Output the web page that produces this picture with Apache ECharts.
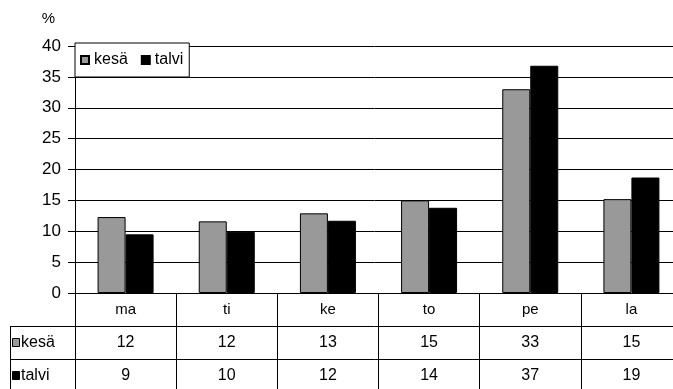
<!DOCTYPE html>
<html>
<head>
<meta charset="utf-8">
<script src="https://cdn.jsdelivr.net/npm/echarts@6/dist/echarts.min.js"></script>
<style>
html,body{margin:0;padding:0;background:#fff;}
#c{width:673px;height:389px;}
</style>
</head>
<body>
<div id="c"></div>
<script>
const categories = ['ma', 'ti', 'ke', 'to', 'pe', 'la'];
const seriesNames = ['kesä', 'talvi'];
const kesaValues = [12.3, 11.6, 12.9, 15.0, 33.0, 15.2];
const talviValues = [9.5, 9.9, 11.7, 13.8, 36.8, 18.7];
const kesaTable = ['12', '12', '13', '15', '33', '15'];
const talviTable = ['9', '10', '12', '14', '37', '19'];
const yTicks = [0, 5, 10, 15, 20, 25, 30, 35, 40];
const yUnit = '%';

const FONT = '"Liberation Sans", Arial, sans-serif';
const GRAY = '#999999';

const chart = echarts.init(document.getElementById('c'), null, {renderer: 'canvas'});

function tableAxis(data, offset, labelSize) {
  return {
    type: 'category',
    data: data,
    position: 'bottom',
    offset: offset,
    boundaryGap: true,
    axisLine: {show: true, lineStyle: {color: '#000', width: 1}},
    axisTick: {show: true, interval: 0, length: 33, lineStyle: {color: '#000', width: 1}},
    axisLabel: {interval: 0, color: '#000', fontFamily: FONT, fontSize: labelSize, margin: 9},
    splitLine: {show: false}
  };
}

const option = {
  backgroundColor: '#fff',
  animation: false,
  grid: {left: 75, width: 607, top: 46, bottom: 96, containLabel: false, outerBoundsMode: 'none'},
  legend: {
    data: seriesNames,
    left: 75, top: 43,
    orient: 'horizontal',
    backgroundColor: '#fff',
    borderColor: '#000', borderWidth: 1, borderRadius: 0,
    padding: [8, 6, 8, 5],
    itemWidth: 8, itemHeight: 8, itemGap: 13,
    icon: 'rect',
    textStyle: {color: '#000', fontFamily: FONT, fontSize: 16, lineHeight: 18}
  },
  xAxis: [
    tableAxis(categories, 0, 15),
    tableAxis(kesaTable, 33, 16),
    tableAxis(talviTable, 66, 16)
  ],
  yAxis: {
    type: 'value',
    min: yTicks[0], max: yTicks[yTicks.length - 1], interval: 5,
    name: yUnit,
    nameLocation: 'end',
    nameGap: 20,
    nameTextStyle: {color: '#000', fontFamily: FONT, fontSize: 15, align: 'right', padding: [0, 20, 0, 0]},
    axisLine: {show: true, lineStyle: {color: '#000', width: 1}},
    axisTick: {show: true, length: 7, lineStyle: {color: '#000', width: 1}},
    axisLabel: {color: '#000', fontFamily: FONT, fontSize: 17, margin: 14},
    splitLine: {show: true, lineStyle: {color: '#000', width: 1}}
  },
  series: [
    {
      name: seriesNames[0], type: 'bar', xAxisIndex: 0, data: kesaValues,
      barWidth: 28, barGap: '0%',
      itemStyle: {color: GRAY, borderColor: '#000', borderWidth: 1}
    },
    {
      name: seriesNames[1], type: 'bar', xAxisIndex: 0, data: talviValues,
      barWidth: 28, barGap: '0%',
      itemStyle: {color: '#000', borderColor: '#000', borderWidth: 1}
    }
  ],
  graphic: [
    {type: 'line', shape: {x1: 10, y1: 326.5, x2: 76, y2: 326.5}, style: {stroke: '#000', lineWidth: 1}},
    {type: 'line', shape: {x1: 10, y1: 359.5, x2: 76, y2: 359.5}, style: {stroke: '#000', lineWidth: 1}},
    {type: 'line', shape: {x1: 10.5, y1: 326, x2: 10.5, y2: 395}, style: {stroke: '#000', lineWidth: 1}},
    {type: 'rect', shape: {x: 12.5, y: 338.5, width: 7, height: 8}, style: {fill: GRAY, stroke: '#000', lineWidth: 1}},
    {type: 'text', x: 21, y: 343, style: {text: seriesNames[0], fill: '#000', font: '16px ' + FONT, verticalAlign: 'middle'}},
    {type: 'rect', shape: {x: 12.5, y: 371.5, width: 7, height: 8}, style: {fill: '#000', stroke: '#000', lineWidth: 1}},
    {type: 'text', x: 21, y: 376, style: {text: seriesNames[1], fill: '#000', font: '16px ' + FONT, verticalAlign: 'middle'}}
  ]
};
chart.setOption(option);
</script>
</body>
</html>
